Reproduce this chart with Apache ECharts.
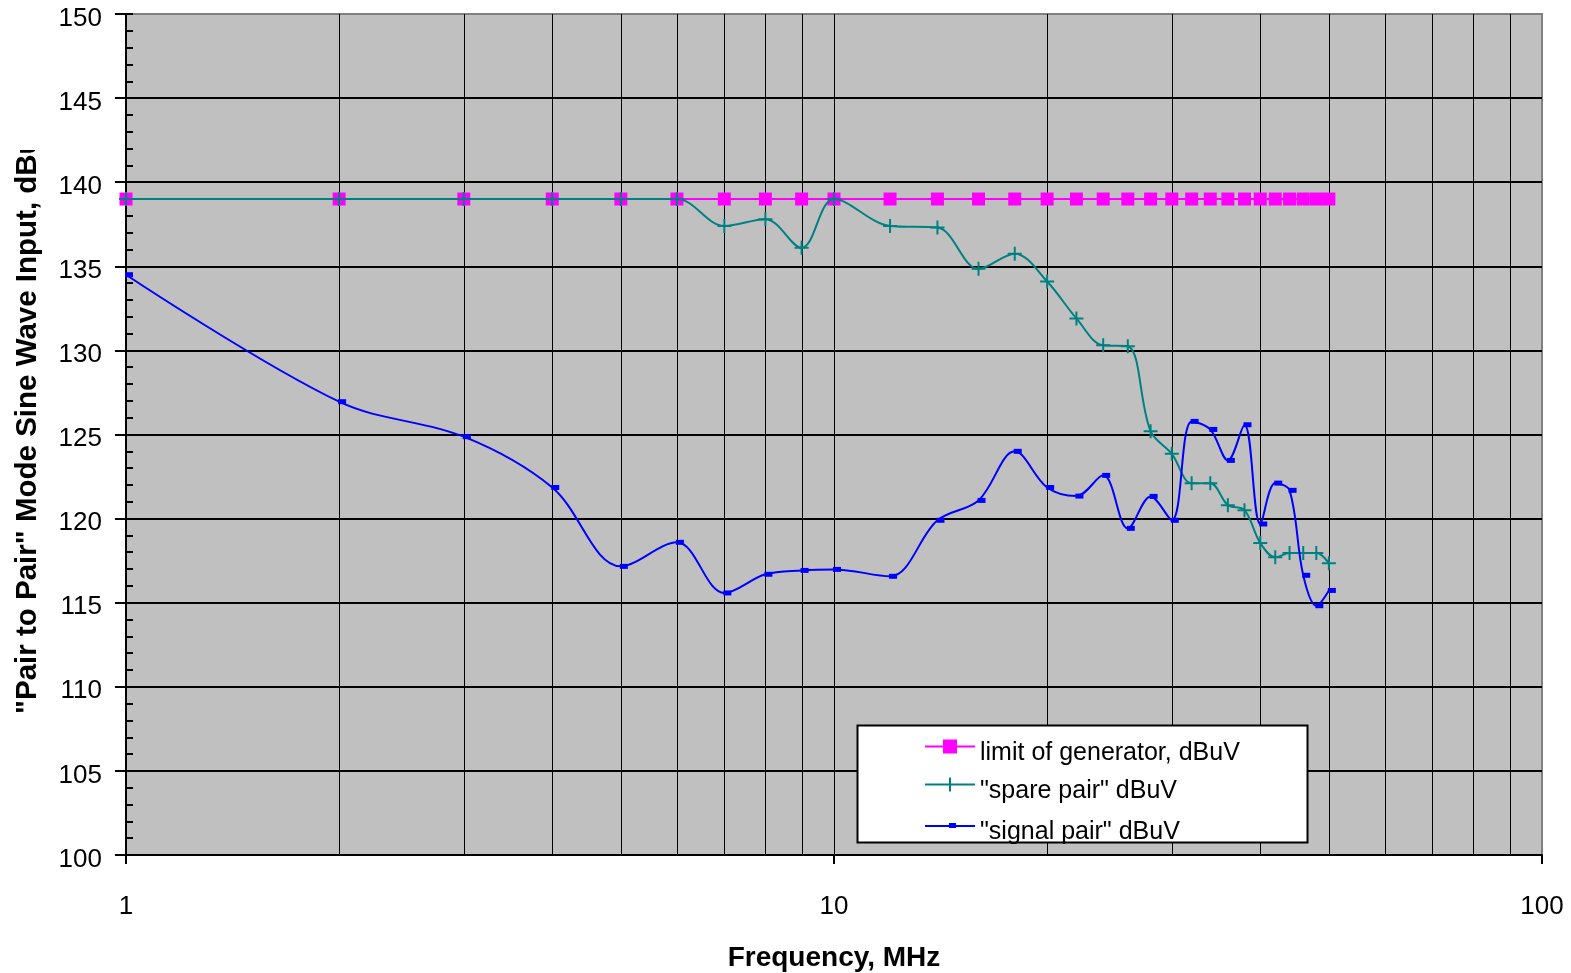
<!DOCTYPE html>
<html>
<head>
<meta charset="utf-8">
<script src="https://cdn.jsdelivr.net/npm/echarts@6/dist/echarts.min.js"></script>
<style>
html,body{margin:0;padding:0;background:#fff;}
#chart{width:1571px;height:973px;}
</style>
</head>
<body>
<div id="chart"></div>
<script>
// ---- data ----
const FREQ = [1,2,3,4,5,6,7,8,9,10,12,14,16,18,20,22,24,26,28,30,32,34,36,38,40,42,44,46,48,50];
const LIMIT = [139,139,139,139,139,139,139,139,139,139,139,139,139,139,139,139,139,139,139,139,139,139,139,139,139,139,139,139,139,139];
const SPARE = [139,139,139,139,139,139,137.4,137.8,136.1,139,137.4,137.3,134.85,135.75,134.1,131.9,130.3,130.25,125.2,123.85,122.1,122.1,120.8,120.5,118.55,117.7,117.95,117.95,117.95,117.35];
const SIGNAL = [134.5,126.95,124.87,121.85,117.16,118.59,115.58,116.69,116.92,116.98,116.57,119.9,121.08,124.0,121.85,121.34,122.57,119.42,121.32,119.9,125.78,125.3,123.46,125.58,119.68,122.11,121.68,116.63,114.82,115.73];
const MINOR_GRID_FREQ = [2,3,4,5,6,7,8,9,20,30,40,50,60,70,80,90];
const X_MIN = 1, X_MAX = 100;
const Y_MIN = 100, Y_MAX = 150, Y_STEP = 5, Y_MINOR_STEP = 1;
const NAMES = ['limit of generator, dBuV', '"spare pair" dBuV', '"signal pair" dBuV'];
const X_TITLE = 'Frequency, MHz';
const Y_TITLE = '"Pair to Pair" Mode Sine Wave Input, dBuV';

const FONT = '"Liberation Sans", Arial, sans-serif';
const pairs = (vals) => FREQ.map((f, i) => [f, vals[i]]);

const chart = echarts.init(document.getElementById('chart'), null, {renderer: 'canvas'});

const legendBase = {
  orient: 'horizontal', left: 925, padding: 0, itemWidth: 50, selectedMode: false,
  z: 60,
  itemStyle: {borderWidth: 0},
  formatter: '{t|{name}}',
  textStyle: {
    fontFamily: FONT, fontSize: 25, color: '#000',
    rich: {t: {fontFamily: FONT, fontSize: 25, color: '#000', padding: [14, 0, 0, 0]}}
  }
};

const option = {
  animation: false,
  backgroundColor: '#fff',
  grid: {
    left: 126, top: 14, right: 29, bottom: 118,
    show: true, backgroundColor: '#c0c0c0', borderColor: '#808080', borderWidth: 2,
    containLabel: false, outerBoundsMode: 'none'
  },
  xAxis: {
    type: 'log', logBase: 10, min: X_MIN, max: X_MAX,
    name: X_TITLE, nameLocation: 'middle', nameGap: 89,
    nameTextStyle: {fontFamily: FONT, fontSize: 28, fontWeight: 'bold', color: '#000'},
    axisLine: {show: true, lineStyle: {color: '#000', width: 2}},
    axisTick: {show: true, inside: false, length: 9, lineStyle: {color: '#000', width: 2}},
    axisLabel: {fontFamily: FONT, fontSize: 26, color: '#000', margin: 39},
    splitLine: {show: true, showMaxLine: false, lineStyle: {color: '#000', width: 1}},
    minorTick: {show: false}, minorSplitLine: {show: false}
  },
  yAxis: [
    {
      type: 'value', position: 'left', min: Y_MIN, max: Y_MAX, interval: Y_STEP,
      axisLine: {show: true, lineStyle: {color: '#000', width: 2}},
      axisTick: {show: true, inside: false, length: 11, lineStyle: {color: '#000', width: 2}},
      axisLabel: {
        fontFamily: FONT, fontSize: 26, color: '#000', margin: 24,
        formatter: '{v|{value}}',
        rich: {v: {fontFamily: FONT, fontSize: 26, color: '#000', padding: [9, 0, 0, 0]}}
      },
      splitLine: {show: true, showMaxLine: false, lineStyle: {color: '#000', width: 2}}
    },
    {
      type: 'value', position: 'left', offset: 0, min: Y_MIN, max: Y_MAX, interval: Y_MINOR_STEP,
      axisLine: {show: false},
      axisTick: {show: true, inside: true, length: 7, lineStyle: {color: '#000', width: 2}},
      axisLabel: {show: false},
      splitLine: {show: false}
    }
  ],
  legend: [
    Object.assign({}, legendBase, {top: 739.5, itemHeight: 14,
      data: [{name: NAMES[0], icon: 'path://M0,6h50v2h-50z M18,0h14v14h-14z'}]}),
    Object.assign({}, legendBase, {top: 777.5, itemHeight: 14,
      data: [{name: NAMES[1], icon: 'path://M0,6h50v2h-50z M24,0h2v14h-2z'}]}),
    Object.assign({}, legendBase, {top: 820, itemHeight: 5,
      data: [{name: NAMES[2], icon: 'path://M0,2h50v2h-50z M24,0h7v5h-7z'}]})
  ],
  graphic: [
    {type: 'rect', z: 50, shape: {x: 857.5, y: 725.5, width: 450, height: 117},
     style: {fill: '#fff', stroke: '#000', lineWidth: 2}},
    {type: 'text', z: 50, x: 28, y: 714, rotation: Math.PI / 2,
     style: {text: Y_TITLE, font: 'bold 29.5px ' + FONT, fill: '#000', align: 'left', verticalAlign: 'middle',
             textAlign: 'left', textVerticalAlign: 'middle'}},
    {type: 'rect', z: 51, shape: {x: 0, y: 0, width: 60, height: 150}, style: {fill: '#fff'}}
  ],
  series: [
    {
      type: 'custom', name: 'grid', z: 1, silent: true, xAxisIndex: 0, yAxisIndex: 0,
      data: MINOR_GRID_FREQ.map(f => [f, Y_MIN]),
      renderItem: function (params, api) {
        const p0 = api.coord([api.value(0), Y_MIN]);
        const p1 = api.coord([api.value(0), Y_MAX]);
        const x = Math.round(p0[0]) + 0.5;
        return {type: 'line', shape: {x1: x, y1: p0[1], x2: x, y2: p1[1]},
                style: {stroke: '#000', lineWidth: 1}};
      }
    },
    {
      type: 'line', name: NAMES[0], z: 2, data: pairs(LIMIT), smooth: 0.35,
      symbol: 'rect', symbolSize: 13, showSymbol: true, showAllSymbol: true,
      lineStyle: {color: '#ff00ff', width: 2}, itemStyle: {color: '#ff00ff', borderWidth: 0},
      emphasis: {disabled: true}, silent: true
    },
    {
      type: 'line', name: NAMES[1], z: 3, data: pairs(SPARE), smooth: 0.35,
      symbol: 'path://M6,0h2v6h6v2h-6v6h-2v-6h-6v-2h6z', symbolSize: 14, showSymbol: true, showAllSymbol: true,
      lineStyle: {color: '#008080', width: 2}, itemStyle: {color: '#008080', borderWidth: 0},
      emphasis: {disabled: true}, silent: true
    },
    {
      type: 'line', name: NAMES[2], z: 4, data: pairs(SIGNAL), smooth: 0.35,
      symbol: 'rect', symbolSize: [8, 5], symbolOffset: [3, 0], showSymbol: true, showAllSymbol: true,
      lineStyle: {color: '#0000ff', width: 2}, itemStyle: {color: '#0000ff', borderWidth: 0},
      emphasis: {disabled: true}, silent: true
    }
  ]
};
chart.setOption(option);
</script>
</body>
</html>
